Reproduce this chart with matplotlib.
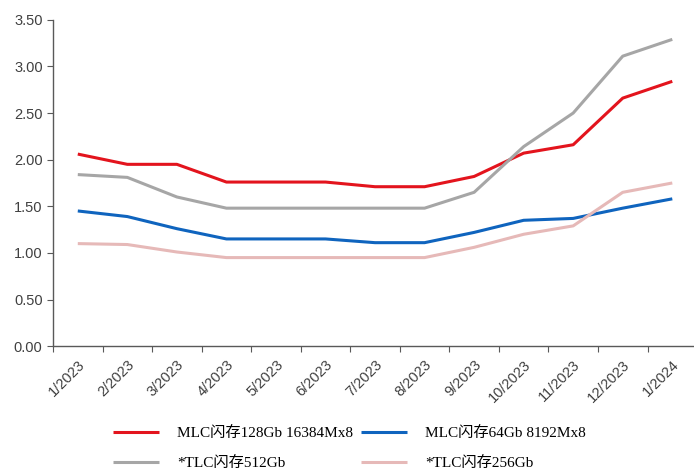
import matplotlib
matplotlib.use('Agg')
import matplotlib.pyplot as plt
from matplotlib.ticker import FixedLocator, NullFormatter

plt.rcParams['font.family'] = ['Liberation Sans', 'Noto Sans CJK SC']

months = ['1/2023', '2/2023', '3/2023', '4/2023', '5/2023', '6/2023', '7/2023',
          '8/2023', '9/2023', '10/2023', '11/2023', '12/2023', '1/2024']

mlc_128 = [2.06, 1.95, 1.95, 1.76, 1.76, 1.76, 1.71, 1.71, 1.82, 2.07, 2.16, 2.66, 2.84]
mlc_64 = [1.45, 1.39, 1.26, 1.15, 1.15, 1.15, 1.11, 1.11, 1.22, 1.35, 1.37, 1.48, 1.58]
tlc_512 = [1.84, 1.81, 1.60, 1.48, 1.48, 1.48, 1.48, 1.48, 1.65, 2.14, 2.50, 3.11, 3.29]
tlc_256 = [1.10, 1.09, 1.01, 0.95, 0.95, 0.95, 0.95, 0.95, 1.06, 1.20, 1.29, 1.65, 1.75]

labels = ['MLC闪存128Gb 16384Mx8', 'MLC闪存64Gb 8192Mx8', '*TLC闪存512Gb', '*TLC闪存256Gb']
colors = ['#E3141D', '#0F64BE', '#A6A6A6', '#E6B9B8']

fig = plt.figure(figsize=(6.94, 4.71), dpi=100)
# the category axis runs slightly past the right edge, as in the source
ax = fig.add_axes([0.0764, 0.265, 0.928, 0.693])

x = range(len(months))
series = [mlc_128, mlc_64, tlc_512, tlc_256]
lines = []
for vals, lab, col in zip(series, labels, colors):
    ln, = ax.plot(x, vals, color=col, lw=2.2, label=lab, solid_capstyle='butt')
    lines.append(ln)

ax.set_ylim(0, 3.5)
ax.set_yticks([i * 0.5 for i in range(8)])
ax.set_yticklabels(['%.2f' % (i * 0.5) for i in range(8)])
ax.set_xlim(-0.5, len(months) - 0.5)

# ticks between categories, labels on categories
ax.xaxis.set_major_locator(FixedLocator([i - 0.5 for i in range(len(months) + 1)]))
ax.xaxis.set_major_formatter(NullFormatter())
ax.xaxis.set_minor_locator(FixedLocator(list(x)))
ax.set_xticklabels(months, minor=True, rotation=45, ha='right', rotation_mode='anchor')
ax.tick_params(axis='x', which='minor', length=0, pad=8, labelsize=10.5, colors='#404040')
ax.tick_params(axis='x', which='major', length=4, direction='out', color='#595959')
ax.tick_params(axis='y', length=4, direction='out', color='#595959', labelsize=10.5,
               labelcolor='#404040')

for s in ['top', 'right']:
    ax.spines[s].set_visible(False)
for s in ['left', 'bottom']:
    ax.spines[s].set_color('#595959')
    ax.spines[s].set_linewidth(1.0)

# legend fills column-wise, so reorder to get MLC on the first row
order = [0, 2, 1, 3]
fig.legend([lines[i] for i in order], [labels[i] for i in order], ncol=2,
           frameon=False, loc='upper left', bbox_to_anchor=(0.163, 0.095),
           prop={'family': ['Liberation Serif', 'Noto Sans CJK SC'], 'size': 11},
           handlelength=3.0, handletextpad=1.2, columnspacing=0.5,
           labelspacing=1.05, borderaxespad=0, borderpad=0)

fig.savefig('out.png', dpi=100)
